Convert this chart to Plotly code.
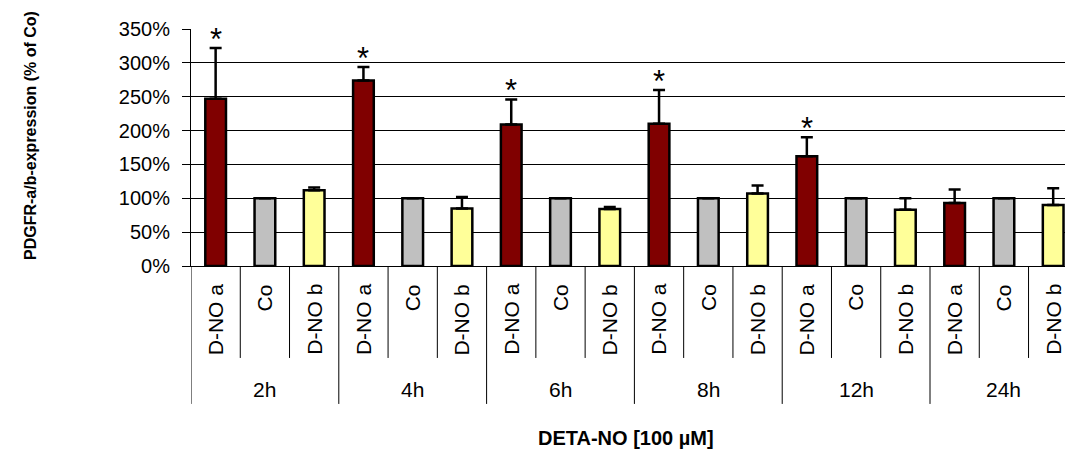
import plotly.graph_objects as go

# Time points and treatments
groups = ["2h", "4h", "6h", "8h", "12h", "24h"]
treatments = ["D-NO a", "Co", "D-NO b"]

# PDGFR expression, % of control
dno_a = [247, 274, 209, 210, 162, 93]
co = [100, 100, 100, 100, 100, 100]
dno_b = [112, 85, 84, 107, 83, 90]

# upper error bars (Co has none)
err_a = [75, 20, 37, 50, 28, 20]
err_co = [None, None, None, None, None, None]
err_b = [4, 17, 3, 12, 17, 25]

# significance markers on D-NO a
signif_a = [True, True, True, True, True, False]

colors = ["#800000", "#C0C0C0", "#FFFF99"]
series = [dno_a, co, dno_b]
errors = [err_a, err_co, err_b]

FONT = "Liberation Sans, Arial, sans-serif"
n_t = len(treatments)

fig = go.Figure()
for t, (name, vals, errs, col) in enumerate(zip(treatments, series, errors, colors)):
    xs = [g * n_t + t for g in range(len(groups))]
    fig.add_trace(go.Bar(
        x=xs, y=vals, name=name, width=0.42,
        marker=dict(color=col, line=dict(color="black", width=2.5)),
        error_y=dict(type="data", symmetric=False, array=errs,
                     arrayminus=[0 if e is not None else None for e in errs],
                     color="black", thickness=2.5, width=6),
        showlegend=False,
    ))

annotations = []
shapes = []

# significance asterisks above the error bars
for g, (v, e, s) in enumerate(zip(dno_a, err_a, signif_a)):
    if s:
        annotations.append(dict(x=g * n_t, y=v + e, xref="x", yref="y", text="*",
                                showarrow=False, yanchor="bottom", yshift=-11,
                                font=dict(family=FONT, size=31, color="black")))

# inner category labels and dividers
for g in range(len(groups)):
    for t, name in enumerate(treatments):
        i = g * n_t + t
        annotations.append(dict(x=i, y=-0.068, xref="x", yref="paper", text=name,
                                textangle=-90, showarrow=False, yanchor="top",
                                xanchor="center",
                                font=dict(family=FONT, size=21, color="black")))
        if t > 0:
            shapes.append(dict(type="line", xref="x", yref="paper", x0=i - 0.5, x1=i - 0.5,
                               y0=0, y1=-0.388, line=dict(color="black", width=1)))
    # group divider and label
    left = g * n_t - 0.5
    shapes.append(dict(type="line", xref="x", yref="paper", x0=left, x1=left,
                       y0=0, y1=-0.582, line=dict(color="black", width=1)))
    annotations.append(dict(x=g * n_t + 1, y=-0.523, xref="x", yref="paper", text=groups[g],
                            showarrow=False, yanchor="middle",
                            font=dict(family=FONT, size=21, color="black")))
last = len(groups) * n_t - 0.5
shapes.append(dict(type="line", xref="x", yref="paper", x0=last, x1=last,
                   y0=0, y1=-0.582, line=dict(color="black", width=1)))

# axis titles
annotations.append(dict(x=0.498, y=-0.78, xref="paper", yref="paper",
                        text="<b>DETA-NO [100 µM]</b>", showarrow=False,
                        font=dict(family=FONT, size=20, color="black")))
annotations.append(dict(x=-0.195, y=0.549, xref="paper", yref="paper",
                        text="<b>PDGFR-a/b-expression (% of Co)</b>", textangle=-90,
                        showarrow=False,
                        font=dict(family=FONT, size=16, color="black")))

fig.update_layout(
    width=1065, height=463,
    margin=dict(l=191, r=0, t=29, b=197),
    paper_bgcolor="white", plot_bgcolor="white",
    bargap=0.58,
    annotations=annotations, shapes=shapes,
    font=dict(family=FONT, color="black"),
)
fig.update_xaxes(range=[-0.5, 17.24], showticklabels=False, showgrid=False,
                 zeroline=False, showline=True, linecolor="black", linewidth=1,
                 ticks="")
fig.update_yaxes(range=[0, 350], dtick=50, ticksuffix="%", showgrid=True,
                 gridcolor="black", gridwidth=1, zeroline=False,
                 showline=True, linecolor="black", linewidth=1,
                 ticks="outside", ticklen=8, tickcolor="black",
                 ticklabelstandoff=8,
                 tickfont=dict(family=FONT, size=20, color="black"))

fig.write_html("out.html")
